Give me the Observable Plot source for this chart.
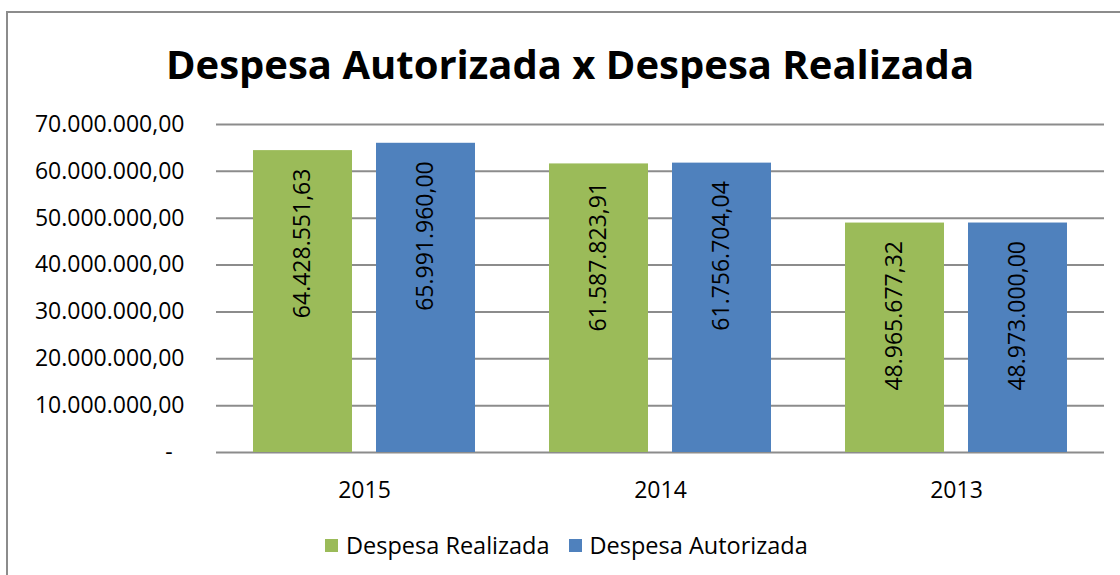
<!DOCTYPE html>
<html>
<head>
<meta charset="utf-8">
<script src="https://cdn.jsdelivr.net/npm/d3@7"></script>
<script src="https://cdn.jsdelivr.net/npm/@observablehq/plot@0.6"></script>
<style>
  html, body { margin: 0; padding: 0; background: #fff; }
  body { width: 1120px; height: 575px; position: relative; overflow: hidden; font-family: "Open Sans", sans-serif; color: #000; }
  #frame { position: absolute; left: 6px; top: 11px; width: 1140px; height: 600px; border: 2px solid #8c8c8c; box-sizing: border-box; }
  #title { position: absolute; left: 0; width: 1140px; top: 44px; text-align: center; font-weight: 700; font-size: 40px; line-height: 1; white-space: nowrap; }
  #chart { position: absolute; left: 0; top: 100px; }
  #legend { position: absolute; left: 325px; top: 529px; display: flex; align-items: center; font-size: 23.5px; white-space: nowrap; }
  .sw { display: inline-block; width: 13px; height: 13px; margin-right: 8px; }
  .item { display: flex; align-items: center; margin-right: 19px; }
</style>
</head>
<body>
<div id="frame"></div>
<div id="title">Despesa Autorizada x Despesa Realizada</div>
<div id="chart"></div>
<div id="legend"></div>
<script>
const years = ["2015", "2014", "2013"];
const series = ["Despesa Realizada", "Despesa Autorizada"];
const realizada = [64428551.63, 61587823.91, 48965677.32];
const autorizada = [65991960.00, 61756704.04, 48973000.00];
const yTicks = [0, 10000000, 20000000, 30000000, 40000000, 50000000, 60000000, 70000000];
const colors = ["#9BBB59", "#4F81BD"];

const ptBR = d3.formatLocale({decimal: ",", thousands: ".", grouping: [3], currency: ["R$", ""]});
const fmt = ptBR.format(",.2f");
const tickFmt = v => v === 0 ? "-\u00a0\u00a0" : fmt(v);

const data = [];
years.forEach((yr, i) => {
  data.push({year: yr, series: series[0], value: realizada[i]});
  data.push({year: yr, series: series[1], value: autorizada[i]});
});

const chart = Plot.plot({
  width: 1120,
  height: 420,
  marginLeft: 216,
  marginRight: 16,
  marginTop: 24,
  marginBottom: 68,
  style: {fontFamily: "Open Sans", fontSize: "23px", color: "#000", background: "transparent"},
  fx: {domain: years, padding: 0, axis: "bottom", tickSize: 0, tickPadding: 29, label: null},
  x: {domain: series, paddingInner: 0.195, paddingOuter: 0.30, axis: null},
  y: {domain: [0, 70000000], ticks: yTicks, tickFormat: tickFmt, tickSize: 0, tickPadding: 32, label: null},
  color: {domain: series, range: colors},
  marks: [
    Plot.ruleY(yTicks, {stroke: "#8c8c8c", strokeWidth: 2}),
    Plot.barY(data, {fx: "year", x: "series", y: "value", fill: "series"}),
    Plot.text(data, {
      fx: "year", x: "series", y: "value",
      text: d => fmt(d.value),
      rotate: -90, textAnchor: "end", lineAnchor: "middle",
      dy: 18, fontSize: 23, fill: "#000"
    })
  ]
});
document.getElementById("chart").appendChild(chart);

const legend = document.getElementById("legend");
series.forEach((s, i) => {
  const item = document.createElement("div");
  item.className = "item";
  const sw = document.createElement("span");
  sw.className = "sw";
  sw.style.background = colors[i];
  const lab = document.createElement("span");
  lab.textContent = s;
  item.appendChild(sw);
  item.appendChild(lab);
  legend.appendChild(item);
});
</script>
</body>
</html>
